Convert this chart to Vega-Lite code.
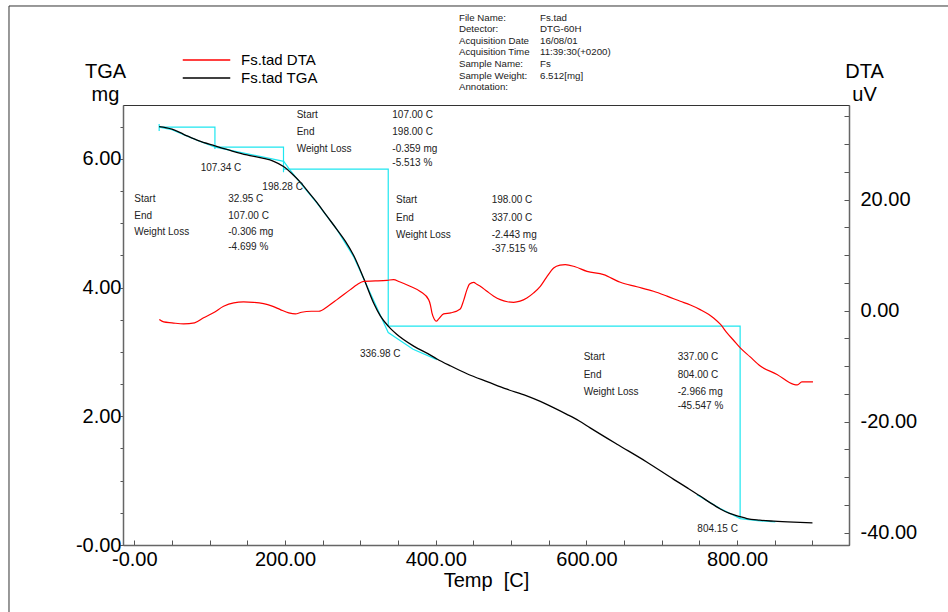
{
  "$schema": "https://vega.github.io/schema/vega-lite/v6.json",
  "width": 726,
  "height": 440,
  "autosize": "none",
  "padding": {"left": 123, "top": 105, "right": 99, "bottom": 67},
  "background": "white",
  "config": {
    "font": "Liberation Sans",
    "view": {"stroke": "#333", "strokeWidth": 1},
    "axis": {
      "labelFont": "Liberation Sans",
      "titleFont": "Liberation Sans",
      "labelColor": "#000",
      "titleColor": "#000",
      "domainColor": "#666",
      "domainWidth": 1.5,
      "tickColor": "#555",
      "tickWidth": 1,
      "grid": false,
      "labelFontSize": 20,
      "titleFontSize": 20,
      "titleFontWeight": "normal",
      "labelOverlap": false,
      "labelFlush": false
    },
    "legend": {"labelFont": "Liberation Sans"}
  },
  "datasets": {
    "tga": [
      {"T": 33, "mg": 6.5}, {"T": 50, "mg": 6.46}, {"T": 65.5, "mg": 6.38}, {"T": 85, "mg": 6.28},
      {"T": 107, "mg": 6.2}, {"T": 130, "mg": 6.12}, {"T": 149.5, "mg": 6.06}, {"T": 170, "mg": 6.01},
      {"T": 185, "mg": 5.96}, {"T": 198, "mg": 5.88}, {"T": 210, "mg": 5.76}, {"T": 220, "mg": 5.64},
      {"T": 232, "mg": 5.47}, {"T": 242.5, "mg": 5.32}, {"T": 255, "mg": 5.12}, {"T": 269, "mg": 4.9},
      {"T": 280, "mg": 4.72}, {"T": 291, "mg": 4.5}, {"T": 304.5, "mg": 4.14}, {"T": 317.6, "mg": 3.76},
      {"T": 326.5, "mg": 3.56}, {"T": 337, "mg": 3.4}, {"T": 348.6, "mg": 3.27}, {"T": 370.7, "mg": 3.09},
      {"T": 393, "mg": 2.95}, {"T": 401.7, "mg": 2.89}, {"T": 420, "mg": 2.78}, {"T": 441.5, "mg": 2.66},
      {"T": 470, "mg": 2.53}, {"T": 494.6, "mg": 2.42}, {"T": 520, "mg": 2.32}, {"T": 538.8, "mg": 2.23},
      {"T": 557, "mg": 2.13}, {"T": 574, "mg": 2.03}, {"T": 590, "mg": 1.93}, {"T": 605, "mg": 1.82},
      {"T": 640, "mg": 1.57}, {"T": 680, "mg": 1.29}, {"T": 715.8, "mg": 1.02}, {"T": 735, "mg": 0.88},
      {"T": 751, "mg": 0.76}, {"T": 765, "mg": 0.65}, {"T": 777.7, "mg": 0.56}, {"T": 790, "mg": 0.49},
      {"T": 804, "mg": 0.44}, {"T": 813, "mg": 0.41}, {"T": 830, "mg": 0.385}, {"T": 848.5, "mg": 0.37},
      {"T": 875, "mg": 0.355}, {"T": 900, "mg": 0.345}
    ],
    "dta": [
      {"T": 33.2, "uV": -1.62}, {"T": 39, "uV": -2.04}, {"T": 50, "uV": -2.2}, {"T": 65.5, "uV": -2.4},
      {"T": 80, "uV": -2.2}, {"T": 92, "uV": -1.3}, {"T": 105, "uV": -0.4}, {"T": 118.5, "uV": 0.78},
      {"T": 132, "uV": 1.4}, {"T": 145, "uV": 1.56}, {"T": 158, "uV": 1.5}, {"T": 171.6, "uV": 1.26},
      {"T": 183, "uV": 0.8}, {"T": 193.8, "uV": 0.18}, {"T": 205, "uV": -0.4}, {"T": 213.7, "uV": -0.6},
      {"T": 222, "uV": -0.3}, {"T": 235, "uV": -0.12}, {"T": 244.6, "uV": -0.12}, {"T": 257, "uV": 0.8},
      {"T": 269, "uV": 1.98}, {"T": 286.7, "uV": 3.78}, {"T": 296, "uV": 4.7}, {"T": 304.3, "uV": 5.28},
      {"T": 320, "uV": 5.35}, {"T": 335.4, "uV": 5.46}, {"T": 344, "uV": 5.59}, {"T": 352, "uV": 5.2},
      {"T": 366, "uV": 4.38}, {"T": 380, "uV": 3.4}, {"T": 390.6, "uV": 1.98}, {"T": 393, "uV": 1.0},
      {"T": 395, "uV": -0.41}, {"T": 398, "uV": -1.5}, {"T": 400.8, "uV": -1.92}, {"T": 404, "uV": -1.5},
      {"T": 410.5, "uV": -0.6}, {"T": 420, "uV": -0.4}, {"T": 432.6, "uV": 0.3}, {"T": 437, "uV": 1.8},
      {"T": 441.5, "uV": 3.78}, {"T": 445, "uV": 4.8}, {"T": 450.3, "uV": 5.1}, {"T": 455, "uV": 4.7},
      {"T": 459.2, "uV": 4.38}, {"T": 468, "uV": 3.48}, {"T": 477, "uV": 2.6}, {"T": 485.7, "uV": 1.98},
      {"T": 495, "uV": 1.6}, {"T": 503.4, "uV": 1.5}, {"T": 512, "uV": 1.7}, {"T": 521, "uV": 2.28},
      {"T": 530, "uV": 3.2}, {"T": 538.8, "uV": 4.38}, {"T": 547, "uV": 6.0}, {"T": 556.5, "uV": 7.69},
      {"T": 565, "uV": 8.2}, {"T": 572, "uV": 8.29}, {"T": 585, "uV": 7.9}, {"T": 600.8, "uV": 7.08},
      {"T": 622.8, "uV": 6.49}, {"T": 645, "uV": 5.1}, {"T": 667, "uV": 4.3}, {"T": 689, "uV": 3.48},
      {"T": 707, "uV": 2.6}, {"T": 724.6, "uV": 1.68}, {"T": 738, "uV": 1.0}, {"T": 751, "uV": 0.18},
      {"T": 768.8, "uV": -1.32}, {"T": 778, "uV": -2.5}, {"T": 786.6, "uV": -4.02}, {"T": 795, "uV": -5.3},
      {"T": 804.2, "uV": -6.72}, {"T": 817, "uV": -8.3}, {"T": 830.8, "uV": -10.0}, {"T": 853, "uV": -11.5},
      {"T": 875, "uV": -13.3}, {"T": 880, "uV": -13.4}, {"T": 886, "uV": -12.85}, {"T": 900.7, "uV": -12.85}
    ],
    "cyan": [
      {"seg": "a", "ord": 0, "T": 33, "mg": 6.54}, {"seg": "a", "ord": 1, "T": 33, "mg": 6.43},
      {"seg": "b", "ord": 0, "T": 33, "mg": 6.49}, {"seg": "b", "ord": 1, "T": 107, "mg": 6.49}, {"seg": "b", "ord": 2, "T": 107, "mg": 6.15},
      {"seg": "c", "ord": 0, "T": 107, "mg": 6.18}, {"seg": "c", "ord": 1, "T": 198, "mg": 6.18}, {"seg": "c", "ord": 2, "T": 198, "mg": 5.79},
      {"seg": "d", "ord": 0, "T": 198, "mg": 5.84}, {"seg": "d", "ord": 1, "T": 337, "mg": 5.84}, {"seg": "d", "ord": 2, "T": 337, "mg": 3.4},
      {"seg": "e", "ord": 0, "T": 337, "mg": 3.4}, {"seg": "e", "ord": 1, "T": 804, "mg": 3.4}, {"seg": "e", "ord": 2, "T": 804, "mg": 0.41},
      {"seg": "f", "ord": 0, "T": 33, "mg": 6.49}, {"seg": "f", "ord": 1, "T": 50, "mg": 6.45}, {"seg": "f", "ord": 2, "T": 65.5, "mg": 6.375},
      {"seg": "f", "ord": 3, "T": 85, "mg": 6.28}, {"seg": "f", "ord": 4, "T": 107.3, "mg": 6.18}, {"seg": "f", "ord": 5, "T": 198.3, "mg": 5.96},
      {"seg": "f", "ord": 6, "T": 205, "mg": 5.85}, {"seg": "f", "ord": 7, "T": 220, "mg": 5.63}, {"seg": "f", "ord": 8, "T": 242.5, "mg": 5.31},
      {"seg": "f", "ord": 9, "T": 269, "mg": 4.9}, {"seg": "f", "ord": 10, "T": 291, "mg": 4.48}, {"seg": "f", "ord": 11, "T": 336.98, "mg": 3.3},
      {"seg": "f", "ord": 12, "T": 370, "mg": 3.04}, {"seg": "f", "ord": 13, "T": 401.7, "mg": 2.88},
      {"seg": "g", "ord": 0, "T": 746.8, "mg": 0.78}, {"seg": "g", "ord": 1, "T": 777, "mg": 0.57}, {"seg": "g", "ord": 2, "T": 804.15, "mg": 0.41},
      {"seg": "g", "ord": 3, "T": 830, "mg": 0.375}, {"seg": "g", "ord": 4, "T": 850.7, "mg": 0.36}
    ],
    "notes": [
      {"T": 215.5, "mg": 6.684, "text": "Start"}, {"T": 342.4, "mg": 6.684, "text": "107.00 C"},
      {"T": 215.5, "mg": 6.42, "text": "End"}, {"T": 342.4, "mg": 6.42, "text": "198.00 C"},
      {"T": 215.5, "mg": 6.156, "text": "Weight Loss"}, {"T": 342.4, "mg": 6.156, "text": "-0.359 mg"},
      {"T": 342.4, "mg": 5.939, "text": "-5.513 %"},
      {"T": 0, "mg": 5.379, "text": "Start"}, {"T": 124.7, "mg": 5.379, "text": "32.95 C"},
      {"T": 0, "mg": 5.115, "text": "End"}, {"T": 124.7, "mg": 5.115, "text": "107.00 C"},
      {"T": 0, "mg": 4.857, "text": "Weight Loss"}, {"T": 124.7, "mg": 4.857, "text": "-0.306 mg"},
      {"T": 124.7, "mg": 4.634, "text": "-4.699 %"},
      {"T": 347.3, "mg": 5.354, "text": "Start"}, {"T": 474.3, "mg": 5.354, "text": "198.00 C"},
      {"T": 347.3, "mg": 5.084, "text": "End"}, {"T": 474.3, "mg": 5.084, "text": "337.00 C"},
      {"T": 347.3, "mg": 4.82, "text": "Weight Loss"}, {"T": 474.3, "mg": 4.82, "text": "-2.443 mg"},
      {"T": 474.3, "mg": 4.603, "text": "-37.515 %"},
      {"T": 596.4, "mg": 2.916, "text": "Start"}, {"T": 721.2, "mg": 2.916, "text": "337.00 C"},
      {"T": 596.4, "mg": 2.645, "text": "End"}, {"T": 721.2, "mg": 2.645, "text": "804.00 C"},
      {"T": 596.4, "mg": 2.381, "text": "Weight Loss"}, {"T": 721.2, "mg": 2.381, "text": "-2.966 mg"},
      {"T": 721.2, "mg": 2.164, "text": "-45.547 %"},
      {"T": 88.1, "mg": 5.852, "text": "107.34 C"},
      {"T": 169.9, "mg": 5.556, "text": "198.28 C"},
      {"T": 299.5, "mg": 2.967, "text": "336.98 C"},
      {"T": 747.2, "mg": 0.254, "text": "804.15 C"}
    ],
    "header": [
      {"T": 430.9, "mg": 8.187, "text": "File Name:"}, {"T": 538.4, "mg": 8.187, "text": "Fs.tad"},
      {"T": 430.9, "mg": 8.008, "text": "Detector:"}, {"T": 538.4, "mg": 8.008, "text": "DTG-60H"},
      {"T": 430.9, "mg": 7.829, "text": "Acquisition Date"}, {"T": 538.4, "mg": 7.829, "text": "16/08/01"},
      {"T": 430.9, "mg": 7.651, "text": "Acquisition Time"}, {"T": 538.4, "mg": 7.651, "text": "11:39:30(+0200)"},
      {"T": 430.9, "mg": 7.472, "text": "Sample Name:"}, {"T": 538.4, "mg": 7.472, "text": "Fs"},
      {"T": 430.9, "mg": 7.293, "text": "Sample Weight:"}, {"T": 538.4, "mg": 7.293, "text": "6.512[mg]"},
      {"T": 430.9, "mg": 7.115, "text": "Annotation:"}
    ],
    "frame": [
      {"T": -166.3, "T2": 1080, "mg": 8.373, "mg2": 8.373},
      {"T": -166.3, "T2": -166.3, "mg": 8.373, "mg2": -1.2}
    ]
  },
  "encoding": {
    "x": {
      "field": "T",
      "type": "quantitative",
      "scale": {"domain": [-15, 948.5], "nice": false, "zero": false},
      "axis": {
        "orient": "bottom",
        "values": [0, 50, 100, 150, 200, 250, 300, 350, 400, 450, 500, 550, 600, 650, 700, 750, 800, 850, 900],
        "labelExpr": "datum.value % 200 == 0 ? (datum.value == 0 ? '-0.00' : format(datum.value, '.2f')) : ''",
        "tickSize": -5,
        "labelPadding": 9,
        "title": "Temp \u00a0[C]",
        "titleBaseline": "alphabetic",
        "titleY": 41.5
      }
    }
  },
  "layer": [
    {
      "encoding": {
        "y": {
          "field": "mg",
          "type": "quantitative",
          "scale": {"domain": [0, 6.835], "nice": false, "zero": false},
          "axis": {
            "orient": "left",
            "values": [0, 0.5, 1, 1.5, 2, 2.5, 3, 3.5, 4, 4.5, 5, 5.5, 6, 6.5],
            "labelExpr": "datum.value % 2 == 0 ? (datum.value == 0 ? '-0.00' : format(datum.value, '.2f')) : ''",
            "tickSize": 3,
            "labelPadding": -1,
            "title": ["TGA", "mg"],
            "titleAngle": 0,
            "titleAlign": "center",
            "titleBaseline": "alphabetic",
            "titleX": -18,
            "titleY": -28,
            "titleLineHeight": 23
          }
        }
      },
      "layer": [
        {
          "data": {"name": "frame"},
          "mark": {"type": "rule", "color": "#333", "strokeWidth": 1},
          "encoding": {
            "x2": {"field": "T2"},
            "y2": {"field": "mg2"}
          }
        },
        {
          "data": {"name": "cyan"},
          "mark": {"type": "line", "color": "#1ee6f0", "strokeWidth": 1.2},
          "encoding": {
            "detail": {"field": "seg", "type": "nominal"},
            "order": {"field": "ord", "type": "quantitative"}
          }
        },
        {
          "data": {"name": "tga"},
          "mark": {"type": "line", "strokeWidth": 1.3, "interpolate": "monotone"},
          "encoding": {
            "color": {"datum": "Fs.tad TGA", "type": "nominal"}
          }
        },
        {
          "data": {"name": "notes"},
          "mark": {"type": "text", "align": "left", "baseline": "middle", "fontSize": 10, "color": "#222", "font": "Liberation Sans"},
          "encoding": {"text": {"field": "text", "type": "nominal"}}
        },
        {
          "data": {"name": "header"},
          "mark": {"type": "text", "align": "left", "baseline": "middle", "fontSize": 9.7, "color": "#222", "font": "Liberation Sans"},
          "encoding": {"text": {"field": "text", "type": "nominal"}}
        }
      ]
    },
    {
      "data": {"name": "dta"},
      "mark": {"type": "line", "strokeWidth": 1.2, "interpolate": "monotone"},
      "encoding": {
        "y": {
          "field": "uV",
          "type": "quantitative",
          "scale": {"domain": [-42.25, 37.06], "nice": false, "zero": false},
          "axis": {
            "orient": "right",
            "values": [-40, -35, -30, -25, -20, -15, -10, -5, 0, 5, 10, 15, 20, 25, 30, 35],
            "labelExpr": "datum.value % 20 == 0 ? replace(format(datum.value, '.2f'), '\u2212', '-') : ''",
            "tickSize": -5,
            "labelPadding": 16,
            "title": ["DTA", "uV"],
            "titleAngle": 0,
            "titleAlign": "center",
            "titleBaseline": "alphabetic",
            "titleX": 15,
            "titleY": -28,
            "titleLineHeight": 23
          }
        },
        "color": {
          "datum": "Fs.tad DTA",
          "type": "nominal",
          "scale": {"domain": ["Fs.tad DTA", "Fs.tad TGA"], "range": ["#ff0000", "#000000"]},
          "legend": {
            "title": null,
            "orient": "none",
            "legendX": 76,
            "legendY": -52.5,
            "padding": 0,
            "symbolType": "M-4.75,0H4.75",
            "symbolSize": 100,
            "symbolStrokeWidth": 1.5,
            "labelOffset": 27,
            "labelFontSize": 15,
            "labelColor": "#000",
            "rowPadding": 2
          }
        }
      }
    }
  ],
  "resolve": {"scale": {"y": "independent"}}
}
